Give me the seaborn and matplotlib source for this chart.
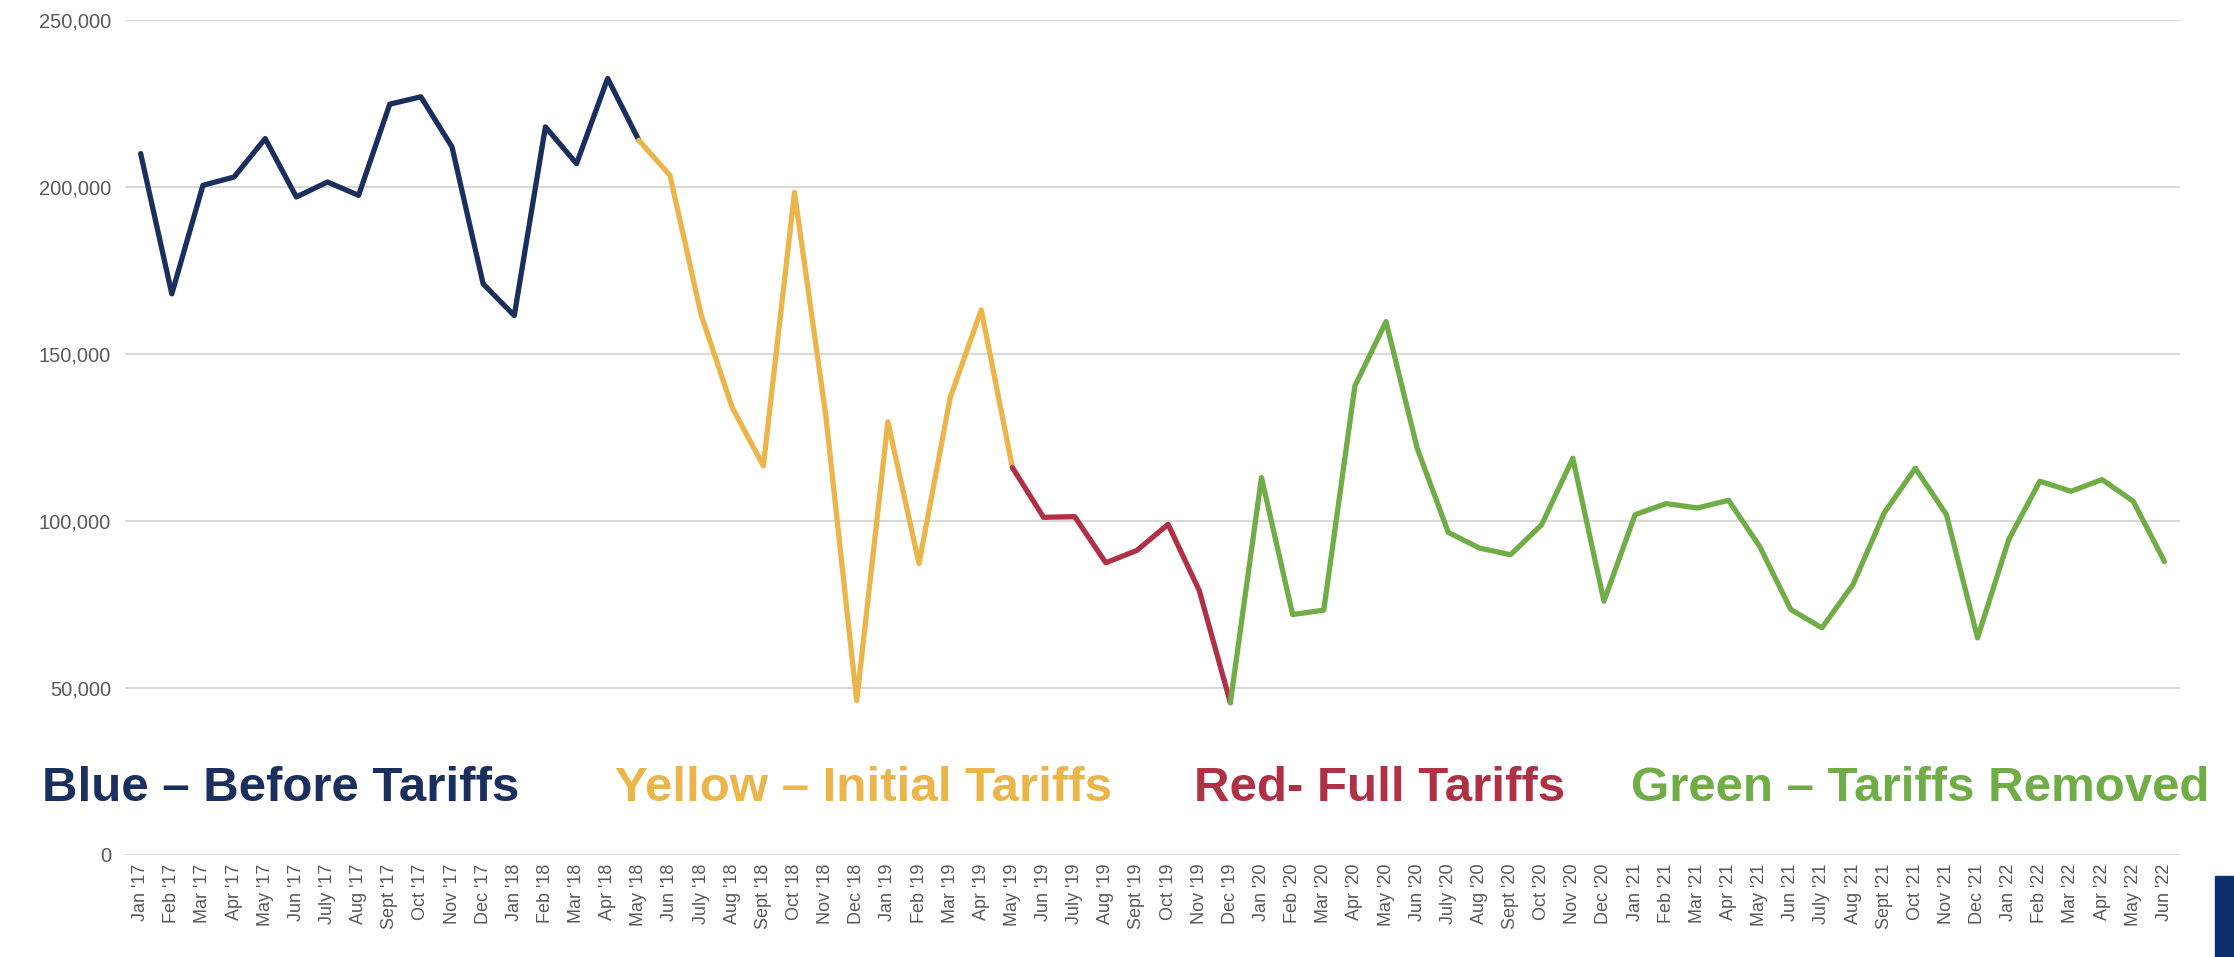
import matplotlib
matplotlib.use("Agg")
import matplotlib.pyplot as plt
import matplotlib.ticker as mticker
from matplotlib import font_manager
import numpy as np
import pandas as pd
import seaborn as sns
from matplotlib.patches import Rectangle

# monthly values, Jan '17 .. Jun '22
month_names = ["Jan", "Feb", "Mar", "Apr", "May", "Jun",
               "July", "Aug", "Sept", "Oct", "Nov", "Dec"]
years = ["17", "18", "19", "20", "21", "22"]
month_labels = [m + " '" + y for y in years for m in month_names][:66]

values = [
    210000, 168000, 200500, 203000, 214500, 197000, 201500, 197500, 224800, 227000, 212000, 171000,
    161500, 218000, 207000, 232500, 214000, 203500, 161800, 134000, 116500, 198400, 132000, 46200,
    129700, 87200, 136900, 163200, 116000, 101100, 101300, 87500, 91200, 99000, 79200, 45600,
    113000, 72000, 73300, 140400, 159700, 121800, 96600, 91900, 89900, 98900, 118800, 76000,
    101900, 105200, 103900, 106200, 92400, 73500, 68000, 81000, 102400, 115800, 101900, 65000,
    94400, 111900, 108900, 112400, 105900, 87900,
]

# phases: (legend text, colour, first month index, last month index)
phase_names = ["Blue \u2013 Before Tariffs", "Yellow \u2013 Initial Tariffs",
               "Red- Full Tariffs", "Green \u2013 Tariffs Removed"]
phase_colors = ["#1B2F5E", "#EBB54A", "#B03145", "#70AD47"]
phase_start = [0, 16, 28, 35]
phase_end = [16, 28, 35, 65]

df = pd.DataFrame({"idx": np.arange(len(values)), "month": month_labels, "value": values})

sns.set_style("white")
plt.rcParams["font.family"] = ["Liberation Sans", "DejaVu Sans"]

# narrow face for the captions if it is there
try:
    font_manager.findfont(font_manager.FontProperties(family="Liberation Sans Narrow", weight="bold"),
                          fallback_to_default=False)
    cap_family, cap_size = "Liberation Sans Narrow", 40
except Exception:
    cap_family, cap_size = "Liberation Sans", 35.5

fig = plt.figure(figsize=(22.34, 9.57), dpi=100)
ax = fig.add_axes([0.056, 0.1066, 0.9198, 0.8725])

for name, col, s, e in zip(phase_names, phase_colors, phase_start, phase_end):
    seg = df[(df.idx >= s) & (df.idx <= e)]
    sns.lineplot(x="idx", y="value", data=seg, ax=ax, color=col, linewidth=3.8,
                 solid_joinstyle="round", solid_capstyle="round")

ax.set_xlim(-0.5, len(values) - 0.5)
ax.set_ylim(0, 250000)
ax.set_yticks(np.arange(0, 250001, 50000))
ax.yaxis.set_major_formatter(mticker.FuncFormatter(lambda v, p: "{:,.0f}".format(v)))
ax.set_xticks(df.idx)
ax.set_xticklabels(df.month, rotation=90, fontsize=13, color="#595959")
ax.tick_params(axis="y", labelsize=14.5, labelcolor="#595959", length=0, pad=10)
ax.tick_params(axis="x", length=0, pad=6)
ax.grid(axis="y", color="#D9D9D9", linewidth=1.5)
ax.set_axisbelow(True)
ax.set_xlabel("")
ax.set_ylabel("")
for sp in ax.spines.values():
    sp.set_visible(False)

# coloured phase captions
text_x = [0.0188, 0.2755, 0.5345, 0.730]
for name, col, tx in zip(phase_names, phase_colors, text_x):
    fig.text(tx, 0.163, name, color=col, fontsize=cap_size, fontweight="bold",
             family=[cap_family, "DejaVu Sans"], va="baseline", ha="left")

# logo fragment at bottom right
fig.patches.append(Rectangle((0.9915, 0.0), 0.0085, 0.085, transform=fig.transFigure,
                             color="#0B2F6B", zorder=5))

plt.savefig("out.png", dpi=100)
